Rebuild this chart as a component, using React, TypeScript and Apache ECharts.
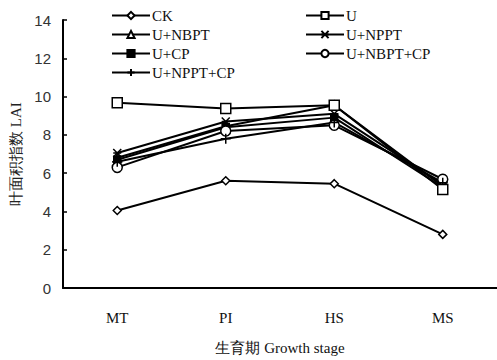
import React, { useEffect, useRef } from "react";
import * as echarts from "echarts";

const categories = ["MT", "PI", "HS", "MS"];
const seriesNames = ["CK", "U", "U+NBPT", "U+NPPT", "U+CP", "U+NBPT+CP", "U+NPPT+CP"];
const ck = [4.05, 5.6, 5.45, 2.8];
const u = [9.68, 9.38, 9.55, 5.15];
const uNbpt = [6.8, 8.45, 9.55, 5.3];
const uNppt = [7.05, 8.7, 9.1, 5.4];
const uCp = [6.7, 8.4, 8.9, 5.25];
const uNbptCp = [6.3, 8.2, 8.5, 5.68];
const uNpptCp = [6.6, 7.8, 8.65, 5.5];
const yTicks = { min: 0, max: 14, interval: 2 };

const symbols = [
  "diamond",
  "rect",
  "triangle",
  "path://M0,0L10,10M10,0L0,10M0,5L10,5",
  "path://M0,0L10,0L10,10L0,10Z",
  "circle",
  "path://M5,0L5,10M0,5L10,5",
];
const sizes = [8, 10, 8, 8, 7, 10, 10];
const fills = ["#fff", "#fff", "#fff", "#000", "#000", "#fff", "#000"];
const values = [ck, u, uNbpt, uNppt, uCp, uNbptCp, uNpptCp];

export default function App() {
  const ref = useRef<HTMLDivElement>(null);
  useEffect(() => {
    const chart = echarts.init(ref.current!, null, { renderer: "svg" });
    const serif = "'Liberation Serif', 'Times New Roman', serif";
    const legendBase = {
      orient: "vertical" as const,
      top: 3,
      itemWidth: 38,
      itemHeight: 9,
      itemGap: 4,
      textStyle: { fontFamily: serif, fontSize: 15, color: "#111", padding: [0, 0, 0, -3] },
    };
    chart.setOption({
      animation: false,
      backgroundColor: "#fff",
      grid: { left: 63, top: 20, bottom: 66, width: 438 },
      legend: [
        { ...legendBase, left: 106, data: ["CK", "U+NBPT", "U+CP", "U+NPPT+CP"] },
        { ...legendBase, left: 300, data: ["U", "U+NPPT", "U+NBPT+CP"] },
      ],
      xAxis: {
        type: "category",
        data: categories,
        boundaryGap: true,
        axisLine: { lineStyle: { color: "#000", width: 2 } },
        axisTick: { inside: true, length: 4, lineStyle: { color: "#000", width: 1.5 } },
        axisLabel: { fontFamily: serif, fontSize: 15, color: "#111", margin: 22 },
        name: "生育期 Growth stage",
        nameLocation: "middle",
        nameGap: 52,
        nameTextStyle: { fontFamily: serif, fontSize: 15, color: "#111" },
      },
      yAxis: {
        type: "value",
        min: yTicks.min,
        max: yTicks.max,
        interval: yTicks.interval,
        splitLine: { show: false },
        axisLine: { show: true, lineStyle: { color: "#000", width: 2 } },
        axisTick: { show: true, inside: true, length: 4, lineStyle: { color: "#000", width: 1.5 } },
        axisLabel: { fontFamily: "'Liberation Sans', Arial, sans-serif", fontSize: 15, color: "#333", margin: 12 },
        name: "叶面积指数 LAI",
        nameLocation: "middle",
        nameGap: 38,
        nameTextStyle: { fontFamily: serif, fontSize: 15, color: "#222" },
      },
      series: seriesNames.map((name, i) => ({
        name,
        type: "line",
        data: values[i],
        symbol: symbols[i],
        symbolSize: sizes[i],
        showSymbol: true,
        lineStyle: { color: "#000", width: 2 },
        itemStyle: { color: fills[i], borderColor: "#000", borderWidth: 1.5 },
        z: i === 0 || i === 1 ? 3 : 2,
      })),
    });
    return () => chart.dispose();
  }, []);
  return (
    <div
      ref={ref}
      style={{ position: "fixed", left: 0, top: 0, width: 497, height: 360 }}
    />
  );
}
